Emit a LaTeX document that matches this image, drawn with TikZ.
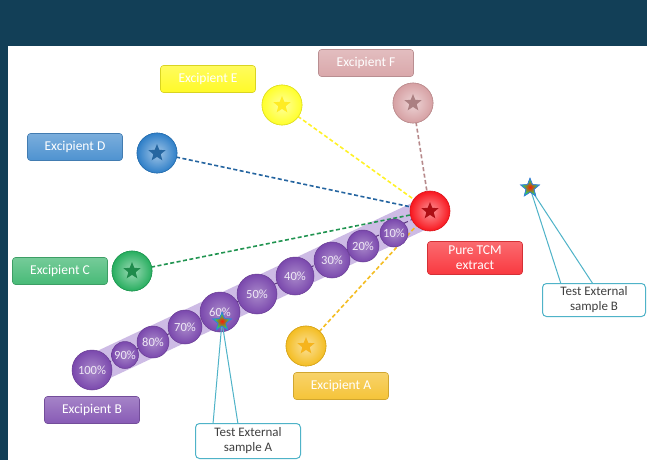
\documentclass[tikz,border=0pt]{standalone}
\usepackage{fontspec}
\setmainfont{Carlito}
\usetikzlibrary{shapes.geometric}
\definecolor{navy}{HTML}{123F57}
\definecolor{colF}{HTML}{D6A0A3}
\definecolor{colE}{HTML}{FFFF2A}
\definecolor{colD}{HTML}{2F7FC8}
\definecolor{colC}{HTML}{27AE5F}
\definecolor{colA}{HTML}{F4BD22}
\definecolor{colB}{HTML}{7A48AD}
\definecolor{colR}{HTML}{F8161E}
\definecolor{teal}{HTML}{4FB3C8}
\definecolor{band}{HTML}{CDBBE5}
\tikzset{
  ball/.style={circle, inner sep=0pt, minimum size=40pt,
    inner color=#1!45!white, outer color=#1, draw=#1!88!black, line width=0.6pt},
  pct/.style={circle, inner sep=0pt, minimum size=#1,
    inner color=colB!65!white, outer color=colB, draw=colB!85!black, line width=0.5pt,
    text=white!88!colB, font=\fontsize{12.5}{13}\selectfont},
  mark star/.style={star, star points=5, star point ratio=2.3, minimum size=18pt,
    inner sep=0pt, fill=#1},
  exbox/.style={rectangle, rounded corners=3pt, minimum width=95pt, minimum height=27pt,
    inner sep=0pt, top color=#1!75!white, bottom color=#1, draw=#1!85!black,
    line width=0.6pt, text=white, font=\fontsize{13.5}{15}\selectfont},
  link/.style={#1, dashed, dash pattern=on 4pt off 2.5pt, line width=1.6pt},
  callout/.style={rectangle, rounded corners=4pt, draw=teal, line width=1pt, fill=white,
    minimum width=105pt, minimum height=35pt, inner sep=0pt, align=center,
    text=black!75, font=\fontsize{13}{15}\selectfont},
  pointer/.style={draw=teal, line width=1pt},
  sample star/.style={star, star points=5, star point ratio=2.3, minimum size=19pt,
    inner sep=0pt, inner color=red!80!orange, outer color=green!60!cyan,
    draw=teal!70!blue, line width=0.8pt}
}
\begin{document}
\begin{tikzpicture}[x=1pt, y=-1pt]
\useasboundingbox (0,0) rectangle (647,460);
% slide background and white panel
\fill[navy] (0,0) rectangle (647,460);
\fill[white] (8,46) rectangle (647,460);

% anchor points of the mixture line
\coordinate (p100) at (92,370);
\coordinate (pR) at (430,211);

% translucent band along the mixture series
\draw[band, line width=30pt] (p100) -- (pR);
\draw[colB!70!black, dashed, dash pattern=on 5pt off 3pt, line width=1pt] (p100) -- (pR);

% excipient balls (drawn first so the dashed links can reference them)
\node[ball=colF] (F) at (413,103) {};
\node[ball=colE] (E) at (282,105) {};
\node[ball=colD] (D) at (157,153) {};
\node[ball=colC] (C) at (132,271) {};
\node[ball=colA] (A) at (306,346) {};

% dashed links to the pure extract
\draw[link=colF!85!black] (F.center) -- (pR);
\draw[link=colE!90!orange] (E.center) -- (pR);
\draw[link=colD!80!black] (D.center) -- (pR);
\draw[link=colC!85!black] (C.center) -- (pR);
\draw[link=colA] (A.center) -- (pR);

% redraw balls on top of the links
\node[ball=colF] at (F) {};
\node[ball=colE] at (E) {};
\node[ball=colD] at (D) {};
\node[ball=colC] at (C) {};
\node[ball=colA] at (A) {};
\node[mark star=colF!80!black] at (F) {};
\node[mark star=colE!85!orange] at (E) {};
\node[mark star=colD!80!black] at (D) {};
\node[mark star=colC!80!black] at (C) {};
\node[mark star=colA!85!orange] at (A) {};

% mixture series with Excipient B
\node[pct=40pt] (m100) at (p100) {100\%};
\node[pct=27pt] (m90) at (125,355) {90\%};
\node[pct=32pt] (m80) at (153,342) {80\%};
\node[pct=34pt] (m70) at (185,327) {70\%};
\node[pct=40pt] (m60) at (220,312) {60\%};
\node[pct=40pt] (m50) at (257,294) {50\%};
\node[pct=38pt] (m40) at (295,276) {40\%};
\node[pct=36pt] (m30) at (332,260) {30\%};
\node[pct=32pt] (m20) at (363,246) {20\%};
\node[pct=28pt] (m10) at (394,233) {10\%};

% pure extract
\node[ball=colR] (R) at (pR) {};
\node[mark star=colR!70!black] at (R) {};

% labels
\node[exbox=colF!92!white] (lF) at (366,63) {Excipient F};
\node[exbox=colE!96!orange] (lE) at (208,79) {Excipient E};
\node[exbox=colD!85!white] (lD) at (75,147) {Excipient D};
\node[exbox=colC!85!white] (lC) at (60,271) {Excipient C};
\node[exbox=colA!90!white] (lA) at (341,386) {Excipient A};
\node[exbox=colB!90!white] (lB) at (92,410) {Excipient B};
\node[exbox=colR!85!white, minimum height=33pt, align=center] (lR) at (475,258)
  {Pure TCM\\extract};

% test samples and their callouts
\node[sample star] (sA) at (222,322) {};
\node[sample star] (sB) at (530,188) {};
\coordinate (aL) at (213,424);
\coordinate (aR) at (238,424);
\coordinate (bL) at (561,284);
\coordinate (bR) at (593,284);
\draw[pointer] (sA.center) -- (aL);
\draw[pointer] (sA.center) -- (aR);
\draw[pointer] (sB.center) -- (bL);
\draw[pointer] (sB.center) -- (bR);
\node[sample star] at (sA) {};
\node[sample star] at (sB) {};
\node[callout] (cA) at (248,441) {Test External\\sample A};
\node[callout, minimum width=103pt, minimum height=33pt] (cB) at (594,300)
  {Test External\\sample B};
\end{tikzpicture}
\end{document}
